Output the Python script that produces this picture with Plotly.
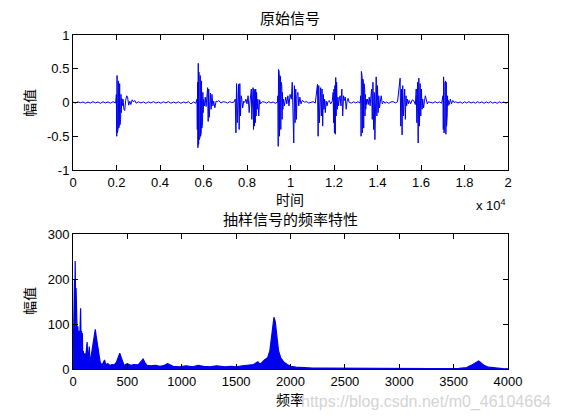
import plotly.graph_objects as go

# ---------------- data: top panel (原始信号), sample index vs amplitude ----------------
sig_t = [
    # quiet 0-1960
    0, 110, 230, 340, 460, 570, 690, 800, 920, 1030, 1150, 1260, 1380, 1490, 1610, 1720, 1840, 1960,
    # burst 1
    1995, 2010, 2025, 2040, 2055, 2070, 2085, 2100, 2115, 2130, 2145, 2160, 2175, 2190, 2205, 2220, 2240, 2260,
    2300, 2340, 2380, 2420, 2470, 2510, 2560, 2610, 2660, 2720, 2780, 2840, 2900,
    # quiet
    3010, 3120, 3240, 3350, 3470, 3580, 3700, 3810, 3930, 4040, 4160, 4270, 4390, 4500, 4620, 4730,
    4850, 4960, 5080, 5190, 5310, 5420, 5540, 5650,
    # burst 2
    5700, 5715, 5730, 5745, 5760, 5775, 5790, 5805, 5820, 5835, 5850, 5865, 5880, 5895, 5910, 5925,
    5940, 5955, 5970, 5985, 6000,
    6040, 6080, 6120, 6160, 6190, 6215, 6240, 6265, 6290, 6320, 6350, 6390, 6430, 6470, 6520, 6580, 6640, 6700,
    # quiet
    6800, 6900, 7000, 7100, 7200, 7300, 7400,
    # burst 3
    7460, 7490, 7520, 7550, 7580, 7610, 7640, 7670, 7700, 7730, 7760, 7800, 7850,
    7900, 7950, 8000, 8050, 8100, 8150,
    8200, 8220, 8240, 8260, 8280, 8300, 8320, 8340, 8360, 8380, 8400, 8420, 8440, 8470, 8500, 8540, 8580, 8620,
    # quiet
    8700, 8800, 8900, 9000, 9100, 9200, 9300, 9400,
    # burst 4
    9420, 9435, 9450, 9465, 9480, 9495, 9510, 9525, 9540, 9555, 9570, 9585, 9600, 9615, 9630, 9650, 9670,
    9720, 9780, 9830, 9880, 9930, 9980, 10040, 10080, 10120, 10150, 10180, 10210, 10240, 10270, 10300,
    10340, 10380, 10430, 10480, 10540,
    # quiet
    10640, 10740, 10840, 10940, 11040, 11140,
    # burst 5
    11240, 11270, 11300, 11330, 11360, 11390, 11420, 11450, 11480, 11510, 11540, 11570, 11600, 11640, 11680, 11720,
    11780, 11850, 11920,
    11960, 11980, 12000, 12020, 12040, 12060, 12080, 12100, 12120, 12150, 12180, 12210, 12240, 12280, 12320,
    12360, 12400, 12440, 12480, 12520, 12560, 12600, 12650, 12700,
    # quiet
    12800, 12900, 13000, 13100, 13200,
    # burst 6
    13230, 13245, 13260, 13275, 13290, 13305, 13320, 13335, 13350, 13365, 13380, 13395, 13410, 13425, 13440,
    13460, 13480, 13500,
    13540, 13580, 13620, 13660, 13700,
    13730, 13760, 13790, 13820, 13850, 13880, 13910, 13940, 13970, 14000, 14030, 14060, 14090, 14130, 14170,
    14220, 14280, 14340,
    # quiet
    14420, 14520, 14620, 14720, 14820, 14920,
    # burst 7
    15040, 15070, 15100, 15130, 15160, 15190, 15220, 15250, 15280, 15310, 15340, 15380, 15420, 15460,
    15520, 15600, 15680, 15740,
    15780, 15810, 15840, 15870, 15900, 15930, 15960, 15990, 16020, 16050, 16080, 16120, 16160, 16200, 16240,
    16290, 16340,
    # quiet
    16450, 16550, 16650, 16750, 16850, 16950,
    # burst 8
    17010, 17025, 17040, 17055, 17070, 17085, 17100, 17115, 17130, 17145, 17160, 17175, 17190, 17205, 17220,
    17240, 17260,
    17300, 17350, 17400, 17460, 17520,
    # quiet to end
    17600, 17700, 17800, 17900, 18000, 18100, 18200, 18300, 18400, 18500, 18600, 18700, 18800, 18900, 19000,
    19100, 19200, 19300, 19400, 19500, 19600, 19700, 19800, 19900, 20000,
]
sig_a = [
    0.005, -0.008, 0.01, -0.004, 0.008, -0.01, 0.006, -0.008, 0.012, -0.006, 0.008, -0.012, 0.01, -0.006, 0.008, -0.01, 0.012, -0.008,
    0.12, -0.5, 0.4, -0.45, 0.33, -0.4, 0.32, -0.38, 0.3, -0.35, 0.28, -0.33, 0.2, -0.25, 0.12, -0.15, 0.06, -0.05,
    0.05, -0.1, -0.12, 0.03, 0.1, 0.08, -0.04, 0.02, -0.03, 0.04, 0.01, 0.03, -0.01,
    0.01, -0.006, 0.008, -0.012, 0.01, -0.006, 0.012, -0.008, 0.006, -0.01, 0.01, -0.006, 0.012, -0.01, 0.006, -0.008,
    0.01, -0.012, 0.008, -0.006, 0.012, -0.02, 0.008, -0.012,
    0.05, -0.4, 0.3, -0.67, 0.58, -0.62, 0.45, -0.55, 0.42, -0.52, 0.4, -0.5, 0.36, -0.45, 0.32, -0.38,
    0.25, -0.3, 0.15, -0.15, 0.05,
    -0.05, 0.08, -0.06, 0.05, 0.22, -0.28, 0.2, -0.22, 0.12, 0.14, -0.1, 0.12, -0.05, 0.02, -0.08, 0.02, 0.01, 0.03,
    -0.008, 0.012, 0.006, -0.008, 0.012, 0.0, 0.006,
    0.05, -0.45, 0.28, -0.3, -0.1, 0.27, -0.4, 0.28, -0.2, 0.1, 0.05, -0.08, 0.02,
    0.0, 0.05, -0.02, 0.1, -0.15, 0.05,
    0.2, -0.25, 0.1, -0.15, 0.22, -0.4, 0.2, -0.35, 0.18, -0.3, 0.2, -0.2, 0.15, -0.1, 0.05, -0.2, 0.04, -0.02,
    0.012, 0.006, -0.008, 0.012, -0.006, 0.008, -0.012, 0.006,
    0.1, -0.65, 0.49, -0.6, 0.45, -0.5, 0.4, -0.45, 0.38, -0.4, 0.3, -0.35, 0.25, -0.25, 0.15, -0.1, 0.05,
    -0.05, 0.08, -0.02, 0.1, -0.05, 0.12, 0.05, 0.3, -0.1, -0.6, 0.25, -0.3, 0.2, -0.25, 0.1,
    0.15, -0.05, 0.08, -0.02, 0.03,
    0.006, 0.012, -0.008, 0.006, 0.012, -0.008,
    0.27, -0.5, 0.25, -0.3, 0.1, 0.22, -0.2, 0.2, -0.35, 0.12, -0.1, 0.05, -0.15, 0.02, -0.05, 0.01,
    0.03, -0.02, 0.02,
    0.15, -0.3, 0.2, -0.45, 0.25, -0.47, 0.37, -0.2, 0.3, -0.1, 0.08, -0.05, 0.04, 0.1, -0.05,
    0.2, -0.2, 0.1, 0.03, 0.08, -0.1, 0.02, 0.06, 0.0,
    -0.008, 0.01, -0.006, 0.012, -0.008,
    0.1, -0.5, 0.46, -0.48, 0.4, -0.45, 0.35, -0.42, 0.33, -0.38, 0.28, -0.3, 0.2, -0.2, 0.12,
    -0.1, 0.05, -0.03,
    0.05, -0.03, 0.08, -0.05, 0.1,
    0.2, -0.25, 0.3, -0.4, 0.15, -0.55, 0.1, 0.38, -0.2, 0.25, -0.15, 0.1, -0.08, 0.06, 0.1,
    -0.02, 0.02, -0.01,
    0.006, -0.012, 0.008, 0.012, -0.006, 0.01,
    0.36, -0.35, 0.2, -0.48, 0.25, -0.2, 0.15, 0.2, -0.25, 0.1, -0.05, 0.05, -0.02, 0.03,
    -0.02, 0.04, 0.02, -0.03,
    0.2, -0.3, 0.3, -0.6, 0.36, -0.35, 0.28, -0.2, 0.2, -0.1, 0.05, -0.08, 0.02, 0.1, 0.05,
    -0.02, 0.01,
    0.006, -0.008, 0.012, -0.006, 0.008, -0.01,
    0.1, -0.4, 0.38, -0.45, 0.35, -0.42, 0.3, -0.45, 0.32, -0.47, 0.3, -0.35, 0.2, -0.2, 0.1,
    -0.05, 0.03,
    -0.03, 0.05, -0.02, 0.03, 0.0,
    0.01, -0.006, 0.008, -0.012, 0.01, -0.006, 0.012, -0.008, 0.006, -0.01, 0.012, -0.006, 0.01, -0.012, 0.008,
    -0.006, 0.012, -0.01, 0.006, -0.012, 0.01, -0.006, 0.008, -0.01, 0.006,
]

top_xticks = [0, 2000, 4000, 6000, 8000, 10000, 12000, 14000, 16000, 18000, 20000]
top_xlabels = ["0", "0.2", "0.4", "0.6", "0.8", "1", "1.2", "1.4", "1.6", "1.8", "2"]
top_yticks = [-1, -0.5, 0, 0.5, 1]
top_ylabels = ["-1", "-0.5", "0", "0.5", "1"]

# ---------------- data: bottom panel (频率特性), frequency vs magnitude ----------------
spec_f = [
    0, 3, 6, 10, 14, 17, 20, 24, 28, 32, 36, 40, 45, 50, 55, 60, 65, 70, 74, 78, 82, 86, 90, 95,
    100, 108, 115, 122, 130, 135, 142, 150, 156, 165, 175, 185, 195, 205, 212, 220, 230, 240,
    250, 262, 275, 290, 300, 320, 340, 360, 380, 400, 415, 430, 440, 455, 470, 500, 530, 560,
    600, 630, 645, 660, 680, 720, 760, 800, 840, 870, 890, 920, 980, 1040, 1100, 1150, 1200,
    1260, 1320, 1400, 1450, 1500, 1560, 1620, 1660, 1700, 1720, 1760, 1790, 1810, 1830, 1848,
    1860, 1875, 1890, 1910, 1940, 1970, 2000, 2050, 2100, 2200, 2300, 2500, 2700, 3000, 3300,
    3550, 3620, 3660, 3700, 3730, 3750, 3780, 3820, 3880, 3950, 4000,
]
spec_mag = [
    0, 70, 20, 160, 200, 120, 240, 150, 180, 90, 110, 60, 95, 40, 85, 50, 90, 135, 60, 85, 30, 80, 20, 40,
    25, 35, 20, 45, 60, 25, 30, 50, 15, 25, 40, 55, 70, 88, 75, 60, 40, 25,
    15, 10, 12, 20, 10, 12, 8, 10, 9, 15, 25, 35, 28, 18, 8, 12, 8, 10,
    9, 18, 22, 15, 8, 7, 8, 6, 8, 12, 10, 6, 5, 7, 5, 8, 6,
    5, 7, 5, 6, 5, 7, 8, 10, 16, 10, 20, 25, 40, 80, 115,
    105, 70, 40, 25, 15, 10, 6, 4, 3, 2, 2, 1.5, 1, 1, 1,
    1.5, 3, 8, 14, 18, 14, 8, 4, 2, 1, 0.5,
]

bot_xticks = [0, 500, 1000, 1500, 2000, 2500, 3000, 3500, 4000]
bot_yticks = [0, 100, 200, 300]

# ---------------- figure ----------------
W, H = 561, 420
BLUE = "#0000f0"
TICKFONT = dict(family="Liberation Sans, Arial, sans-serif", size=13, color="black")
CJK = "Noto Sans CJK SC, sans-serif"


def px(x):
    return x / W


def py(y):
    return 1 - y / H


fig = go.Figure()
fig.add_trace(go.Scatter(x=sig_t, y=sig_a, mode="lines", line=dict(color=BLUE, width=1),
                         xaxis="x", yaxis="y", showlegend=False, hoverinfo="skip"))
fig.add_trace(go.Scatter(x=spec_f, y=spec_mag, mode="lines", fill="tozeroy", fillcolor=BLUE,
                         line=dict(color=BLUE, width=1.2), xaxis="x2", yaxis="y2",
                         showlegend=False, hoverinfo="skip"))

axis_common = dict(showline=True, linecolor="black", linewidth=1, mirror="ticks",
                   ticks="inside", ticklen=5, tickcolor="black", tickwidth=1,
                   showgrid=False, zeroline=False, tickfont=TICKFONT, fixedrange=True,
                   automargin=False)

left, right = px(73), px(508)
fig.update_layout(
    width=W, height=H,
    margin=dict(l=0, r=0, t=0, b=0, autoexpand=False),
    paper_bgcolor="white", plot_bgcolor="white",
    xaxis=dict(domain=[left, right], range=[0, 20000], tickmode="array",
               tickvals=top_xticks, ticktext=top_xlabels, anchor="y", **axis_common),
    yaxis=dict(domain=[py(170), py(35)], range=[-1, 1], tickmode="array",
               tickvals=top_yticks, ticktext=top_ylabels, anchor="x", **axis_common),
    xaxis2=dict(domain=[left, right], range=[0, 4000], tickmode="array",
                tickvals=bot_xticks, anchor="y2", **axis_common),
    yaxis2=dict(domain=[py(369), py(234)], range=[0, 300], tickmode="array",
                tickvals=bot_yticks, anchor="x2", **axis_common),
)

ann = []


def text(s, x, y, size=15, family=CJK, color="black", xanchor="center", angle=0):
    ann.append(dict(text=s, x=px(x), y=py(y), xref="paper", yref="paper", showarrow=False,
                    xanchor=xanchor, yanchor="middle", textangle=angle,
                    font=dict(family=family, size=size, color=color)))


text("原始信号", 290, 18)
text("时间", 290, 198.5, size=14)
text("幅值", 29, 103, size=14, angle=-90)
text("抽样信号的频率特性", 290, 218)
text("频率", 290, 398.5, size=14)
text("幅值", 29, 301, size=14, angle=-90)
text("x 10<sup>4</sup>", 508, 205, size=13, family="Liberation Sans, Arial, sans-serif", xanchor="right")
text("https://blog.csdn.net/m0_46104664", 553, 402, size=16,
     family="Liberation Sans, Arial, sans-serif", color="#d4d4d4", xanchor="right")

fig.update_layout(annotations=ann)
fig.write_html("out.html")
